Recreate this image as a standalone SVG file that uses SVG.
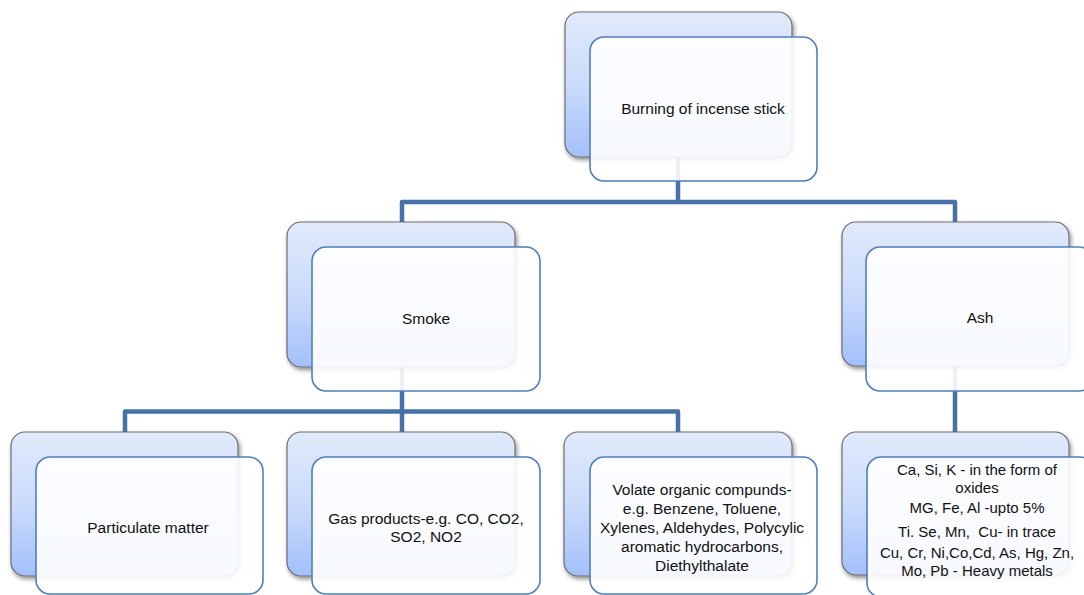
<svg xmlns="http://www.w3.org/2000/svg" width="1084" height="595" viewBox="0 0 1084 595">
<defs>
<linearGradient id="bg" x1="0" y1="0" x2="0" y2="1">
<stop offset="0" stop-color="#e1eafb"/>
<stop offset="0.5" stop-color="#cbdbfb"/>
<stop offset="1" stop-color="#a3c0fc"/>
</linearGradient>
<filter id="sh" x="-10%" y="-10%" width="125%" height="130%">
<feDropShadow dx="1.5" dy="2.5" stdDeviation="2" flood-color="#000" flood-opacity="0.45"/>
</filter>
<style>
.back{fill:url(#bg);stroke:#6e6e6e;stroke-width:1.2;filter:url(#sh)}
.front{fill:#ffffff;fill-opacity:0.9;stroke:#4f7fbc;stroke-width:1.6}
.conn{fill:none;stroke:#4672a8;stroke-width:4.5;stroke-linejoin:round}
text{font-family:"Liberation Sans",Arial,sans-serif;font-size:15.5px;fill:#111;text-anchor:middle}
.sm{font-size:15px}
</style>
</defs>
<rect width="1084" height="595" fill="#ffffff"/>
<g id="connectors">
<path class="conn" d="M678 157 V202 M402 223 V202 H955 V223"/>
<path class="conn" d="M402 367 V411.5 M125 432 V411.5 H678 V432 M402 411.5 V432"/>
<path class="conn" d="M955 366 V432"/>
</g>
<g id="node-burning">
<rect class="back" x="565" y="12" width="227" height="145" rx="14"/>
<rect class="front" x="590" y="37" width="227" height="144" rx="14"/>
<text x="703" y="114">Burning of incense stick</text>
</g>
<g id="node-smoke">
<rect class="back" x="287" y="222" width="228" height="145" rx="14"/>
<rect class="front" x="312" y="247" width="228" height="144" rx="14"/>
<text x="426" y="324">Smoke</text>
</g>
<g id="node-ash">
<rect class="back" x="842" y="222" width="227" height="144" rx="14"/>
<rect class="front" x="866" y="247" width="227" height="144" rx="14"/>
<text x="980" y="323">Ash</text>
</g>
<g id="node-particulate">
<rect class="back" x="11" y="432" width="227" height="144" rx="14"/>
<rect class="front" x="36" y="457" width="227" height="137" rx="14"/>
<text x="148" y="533">Particulate matter</text>
</g>
<g id="node-gas">
<rect class="back" x="287" y="432" width="228" height="144" rx="14"/>
<rect class="front" x="312" y="457" width="228" height="137" rx="14"/>
<text x="426" y="524">Gas products-e.g. CO, CO2,</text>
<text x="426" y="542">SO2, NO2</text>
</g>
<g id="node-voc">
<rect class="back" x="564" y="432" width="228" height="144" rx="14"/>
<rect class="front" x="590" y="457" width="227" height="137" rx="14"/>
<text x="702" y="495">Volate organic compunds-</text>
<text x="702" y="514">e.g. Benzene, Toluene,</text>
<text x="702" y="533">Xylenes, Aldehydes, Polycylic</text>
<text x="702" y="552">aromatic hydrocarbons,</text>
<text x="702" y="571">Diethylthalate</text>
</g>
<g id="node-ash-contents">
<rect class="back" x="842" y="432" width="227" height="143" rx="14"/>
<rect class="front" x="867" y="457" width="227" height="140" rx="14"/>
<text class="sm" x="977" y="475">Ca, Si, K - in the form of</text>
<text class="sm" x="977" y="493">oxides</text>
<text class="sm" x="977" y="513">MG, Fe, Al -upto 5%</text>
<text class="sm" x="977" y="537" xml:space="preserve">Ti. Se, Mn,  Cu- in trace</text>
<text class="sm" x="977" y="558">Cu, Cr, Ni,Co,Cd, As, Hg, Zn,</text>
<text class="sm" x="977" y="576">Mo, Pb - Heavy metals</text>
</g>
</svg>
